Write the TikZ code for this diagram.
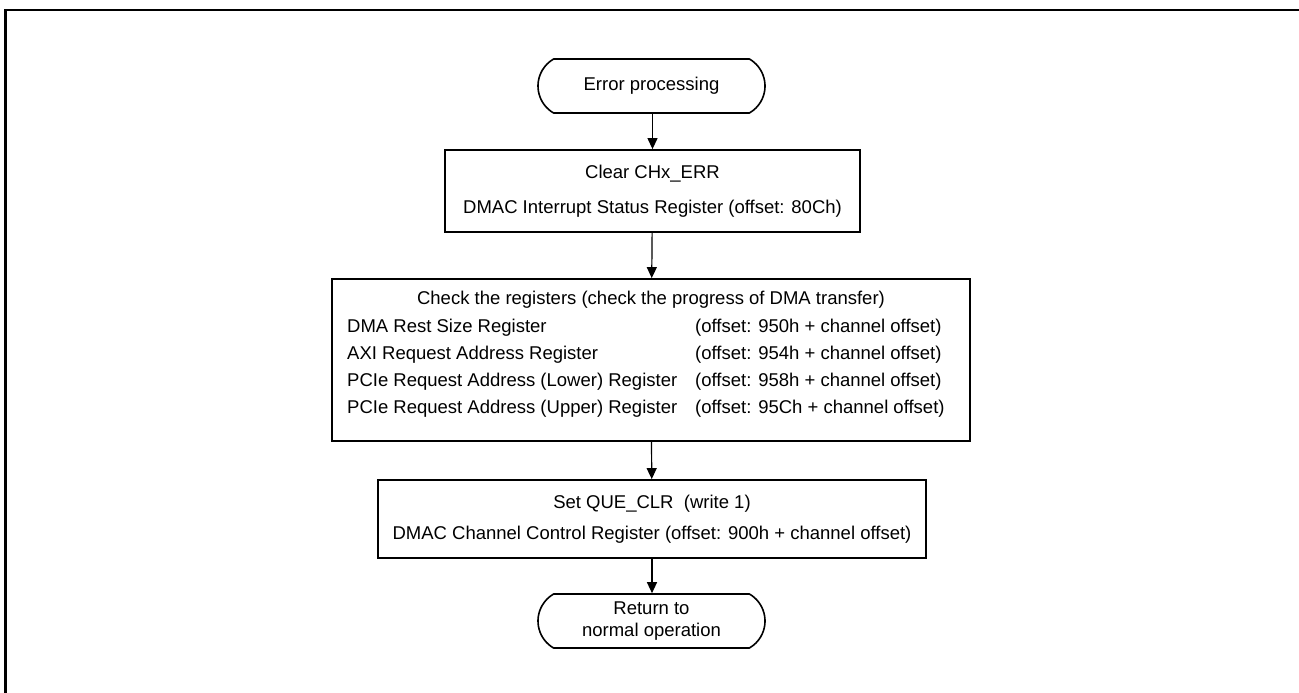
\documentclass[tikz,border=0pt]{standalone}
\usepackage{fontspec}
\setmainfont{Liberation Sans}
\usetikzlibrary{arrows.meta,shapes.misc}
\begin{document}
\begin{tikzpicture}[x=1pt,y=-1pt,
  every node/.style={font=\fontsize{18.5}{22}\selectfont, inner sep=0pt},
  stepbox/.style={draw, line width=1.8pt, rectangle, align=center},
  term/.style={draw, line width=1.6pt, rounded rectangle, rounded rectangle arc length=120, align=center, minimum width=227pt, minimum height=54pt},
  flow/.style={line width=1.2pt, -{Triangle[length=11pt,width=10pt]}},
  txt/.style={anchor=base west},
  frame/.style={line width=2.4pt}
]
\useasboundingbox (0,0) rectangle (1299,693);
\draw[frame] (5.5,693) -- (5.5,10) -- (1299,10);

\node[term] (start) at (651.5,86) {Error processing};

\node[stepbox, minimum width=415pt, minimum height=82pt,
  font=\fontsize{18.5}{35}\selectfont] (clr) at (652.5,191)
  {Clear CHx\_ERR\\DMAC Interrupt Status Register (offset: 80Ch)};

\node[stepbox, minimum width=638pt, minimum height=162pt] (chk) at (651,360) {};
\node[anchor=base] (t0) at (651,304.6) {Check the registers (check the progress of DMA transfer)};
\node[txt] (l1) at (347,332.6) {DMA Rest Size Register};
\node[txt] (l2) at (347,359.6) {AXI Request Address Register};
\node[txt] (l3) at (347,386.6) {PCIe Request Address (Lower) Register};
\node[txt] (l4) at (347,413.6) {PCIe Request Address (Upper) Register};
\node[txt] (r1) at (695,332.6) {(offset: 950h + channel offset)};
\node[txt] (r2) at (695,359.6) {(offset: 954h + channel offset)};
\node[txt] (r3) at (695,386.6) {(offset: 958h + channel offset)};
\node[txt] (r4) at (695,413.6) {(offset: 95Ch + channel offset)};

\node[stepbox, minimum width=548pt, minimum height=78pt,
  font=\fontsize{18.5}{31}\selectfont] (que) at (652,519)
  {Set QUE\_CLR~ (write 1)\\DMAC Channel Control Register (offset: 900h + channel offset)};

\node[term, font=\fontsize{18.5}{22}\selectfont] (ret) at (651.5,621) {Return to\\normal operation};

\draw[flow] (start.south -| clr.north) -- (clr.north);
\draw[flow] (clr) -- (chk);
\draw[flow] (chk) -- (que);
\draw[flow] (que.south) -- (ret.north -| que.south);
\end{tikzpicture}
\end{document}
